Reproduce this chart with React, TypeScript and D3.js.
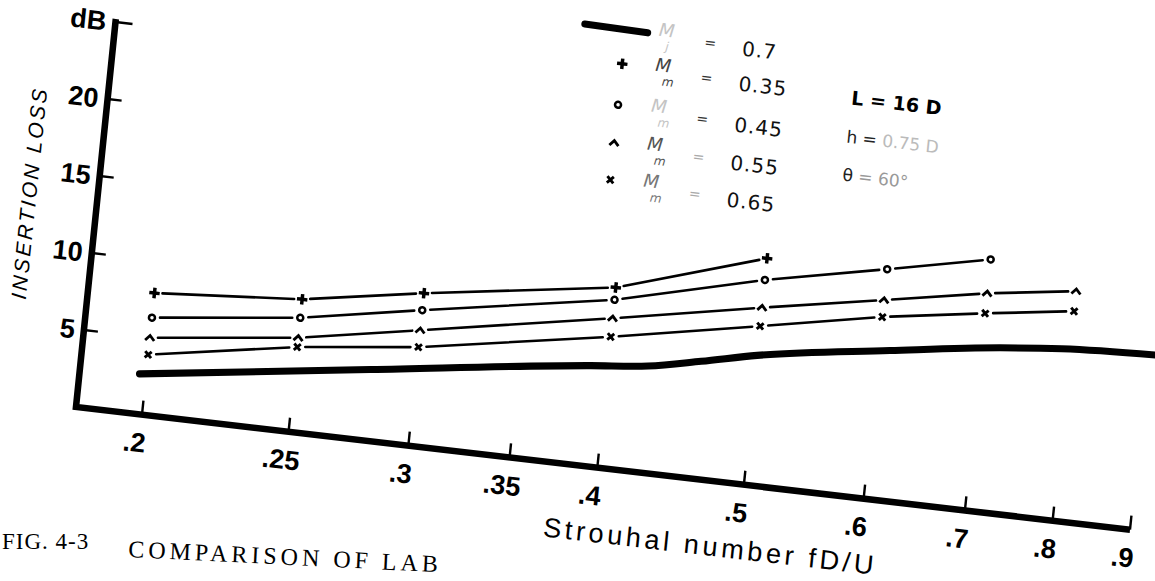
import React from "react";
import * as d3 from "d3";

// ---- data ----
const STROUHAL_TICKS = [0.2, 0.25, 0.3, 0.35, 0.4, 0.5, 0.6, 0.7, 0.8, 0.9];
const STROUHAL_TICK_LABELS = [".2", ".25", ".3", ".35", ".4", ".5", ".6", ".7", ".8", ".9"];
const DB_TICKS = [5, 10, 15, 20, 25];
const DB_TICK_LABELS = ["5", "10", "15", "20", "dB"];

const STROUHAL_POINTS = [0.2, 0.25, 0.3, 0.4, 0.5, 0.6, 0.7, 0.8];
const LOSS_MM_035 = [7.9, 8.6, 9.9, 11.7, 14.7];
const LOSS_MM_045 = [6.3, 7.4, 8.8, 10.9, 13.3, 14.9, 16.3];
const LOSS_MM_055 = [5.0, 6.1, 7.5, 9.7, 11.5, 12.9, 14.1, 14.9];
const LOSS_MM_065 = [3.9, 5.5, 6.4, 8.5, 10.3, 11.8, 12.8, 13.6];

const STROUHAL_MJ = [0.198, 0.28, 0.39, 0.425, 0.46, 0.5, 0.61, 0.72, 0.79, 0.91];
const LOSS_MJ_07 = [2.6, 4.6, 6.5, 6.9, 7.6, 8.4, 9.7, 10.7, 11.1, 11.4];

const SERIES_MARKERS = ["plus", "circle", "caret", "cross"];
const SERIES_VALUES = [LOSS_MM_035, LOSS_MM_045, LOSS_MM_055, LOSS_MM_065];
const LEGEND_VALUES = ["0.7", "0.35", "0.45", "0.55", "0.65"];
const LEGEND_SUBS = ["j", "m", "m", "m", "m"];
const X_TITLE = "Strouhal number fD/U";
const Y_TITLE = "INSERTION  LOSS";

// ---- layout ----
const W = 1155;
const H = 581;
// affine frame that reproduces the tilt of the scanned page
const FRAME = "matrix(1 0.1164 -0.1026 1 115.5 22)";

const x = d3.scaleLog().domain([0.2, 0.9]).range([66, 1054]);
const y = d3.scaleLinear().domain([0, 25]).range([385, 0]);

function Marker({ kind, cx, cy }: { kind: string; cx: number; cy: number }) {
  const t = `translate(${cx},${cy})`;
  if (kind === "plus") {
    return <path transform={t} d={d3.symbol(d3.symbolCross, 60)() as string} fill="#000" />;
  }
  if (kind === "circle") {
    return <circle cx={cx} cy={cy} r={3} fill="#fff" stroke="#000" strokeWidth={2.5} />;
  }
  if (kind === "caret") {
    return <path transform={t} d="M-4.5,2.8L0,-2.2L4.5,2.8" fill="none" stroke="#000" strokeWidth={2.8} />;
  }
  return <path transform={t} d="M-3.2,-3.2L3.2,3.2M3.2,-3.2L-3.2,3.2" fill="none" stroke="#000" strokeWidth={2.9} />;
}

function gapSegments(pts: [number, number][], gap: number) {
  const segs: number[][] = [];
  for (let i = 0; i < pts.length - 1; i++) {
    const [x1, y1] = pts[i];
    const [x2, y2] = pts[i + 1];
    const len = Math.hypot(x2 - x1, y2 - y1);
    const ux = (x2 - x1) / len;
    const uy = (y2 - y1) / len;
    segs.push([x1 + ux * gap, y1 + uy * gap, x2 - ux * gap, y2 - uy * gap]);
  }
  return segs;
}

export default function App() {
  const thickLine = d3
    .line<number>()
    .x((_, i) => x(STROUHAL_MJ[i]))
    .y((d) => y(d))
    .curve(d3.curveMonotoneX);

  const legendRows = [-52, -17, 24, 62, 99];
  const faint = ["#c4c4c4", "#444", "#c4c4c4", "#555", "#777"];

  return (
    <svg
      width={W}
      height={H}
      viewBox={`0 0 ${W} ${H}`}
      style={{ position: "absolute", left: 0, top: 0, display: "block", background: "#fff" }}
    >
      <rect width={W} height={H} fill="#fff" />
      <g transform={FRAME}>
        {/* axes */}
        <path
          d={`M0,${y(25) - 3}L0,${y(0)}L${x(0.9)},${y(0)}`}
          fill="none"
          stroke="#000"
          strokeWidth={6.5}
          strokeLinejoin="miter"
        />
        {DB_TICKS.map((t) => (
          <line key={"yt" + t} x1={0} x2={t === 25 ? 17 : 14} y1={y(t)} y2={y(t)} stroke="#000" strokeWidth={2.4} />
        ))}
        {DB_TICKS.map((t, i) => (
          <text
            key={"yl" + t}
            x={-9}
            y={y(t)}
            textAnchor="end"
            dominantBaseline="central"
            fontFamily="Liberation Sans, Arial, sans-serif"
            fontWeight={700}
            fontSize={27}
          >
            {DB_TICK_LABELS[i]}
          </text>
        ))}
        {STROUHAL_TICKS.map((t) => (
          <line key={"xt" + t} x1={x(t)} x2={x(t)} y1={y(0)} y2={y(0) - 14} stroke="#000" strokeWidth={2.4} />
        ))}
        {STROUHAL_TICKS.map((t, i) => (
          <text
            key={"xl" + t}
            x={x(t) - 5}
            y={y(0) + 28}
            textAnchor="middle"
            dominantBaseline="central"
            fontFamily="Liberation Sans, Arial, sans-serif"
            fontWeight={700}
            fontSize={27}
          >
            {STROUHAL_TICK_LABELS[i]}
          </text>
        ))}
        <text
          x={474}
          y={y(0) + 74}
          fontFamily="Liberation Sans, Arial, sans-serif"
          fontSize={27}
          textLength={330}
          lengthAdjust="spacing"
        >
          {X_TITLE}
        </text>
        <text
          transform={`translate(-68,180) rotate(-90)`}
          textAnchor="middle"
          dominantBaseline="central"
          fontFamily="Liberation Sans, Arial, sans-serif"
          fontStyle="italic"
          fontSize={21}
          textLength={210}
          lengthAdjust="spacing"
        >
          {Y_TITLE}
        </text>

        {/* thick Mj curve */}
        <path
          d={thickLine(LOSS_MJ_07) as string}
          fill="none"
          stroke="#000"
          strokeWidth={7}
          strokeLinecap="round"
        />

        {/* marker series */}
        {SERIES_VALUES.map((vals, si) => {
          const pts: [number, number][] = vals.map((v, i) => [x(STROUHAL_POINTS[i]), y(v)]);
          return (
            <g key={"s" + si}>
              {gapSegments(pts, 8).map((s, k) => (
                <line key={k} x1={s[0]} y1={s[1]} x2={s[2]} y2={s[3]} stroke="#000" strokeWidth={2.6} strokeLinecap="round" />
              ))}
              {pts.map((p, k) => (
                <Marker key={k} kind={SERIES_MARKERS[si]} cx={p[0]} cy={p[1]} />
              ))}
            </g>
          );
        })}

        {/* legend */}
        <line x1={464} x2={527} y1={legendRows[0]} y2={legendRows[0] + 1.5} stroke="#000" strokeWidth={7} strokeLinecap="round" />
        {SERIES_MARKERS.map((m, i) => (
          <Marker key={"lm" + i} kind={m} cx={505} cy={legendRows[i + 1]} />
        ))}
        {LEGEND_VALUES.map((v, i) => (
          <g key={"lv" + i} fontFamily="DejaVu Sans, sans-serif">
            <text x={538} y={legendRows[i] + 3} fontSize={18} fontStyle="italic" fill={faint[i]}>
              M
            </text>
            <text x={546} y={legendRows[i] + 17} fontSize={12} fontStyle="italic" fill={faint[i]}>
              {LEGEND_SUBS[i]}
            </text>
            <text x={584} y={legendRows[i] + 9} fontSize={14} fill={i === 3 || i === 4 ? "#aaa" : "#333"}>
              =
            </text>
            <text x={622} y={legendRows[i] + 13} fontSize={20} letterSpacing={1} fill="#111">
              {v}
            </text>
          </g>
        ))}
        <text x={735} y={-3} fontFamily="DejaVu Sans, sans-serif" fontWeight={700} fontSize={19}>
          L = 16 D
        </text>
        <text x={734} y={35} fontFamily="DejaVu Sans, sans-serif" fontSize={17}>
          <tspan fill="#222">h  =  </tspan>
          <tspan fill="#bbb">0.75  D</tspan>
        </text>
        <text x={734} y={73} fontFamily="DejaVu Sans, sans-serif" fontSize={17}>
          <tspan fill="#222">θ  </tspan>
          <tspan fill="#999">=  60°</tspan>
        </text>
      </g>

      {/* caption */}
      <text x={2} y={549} fontFamily="Liberation Serif, serif" fontSize={23} letterSpacing={1}>
        FIG. 4-3
      </text>
      <text
        transform="translate(128,557) rotate(2.8)"
        fontFamily="Liberation Serif, serif"
        fontSize={24}
        letterSpacing={4}
      >
        COMPARISON OF LAB
      </text>
    </svg>
  );
}
